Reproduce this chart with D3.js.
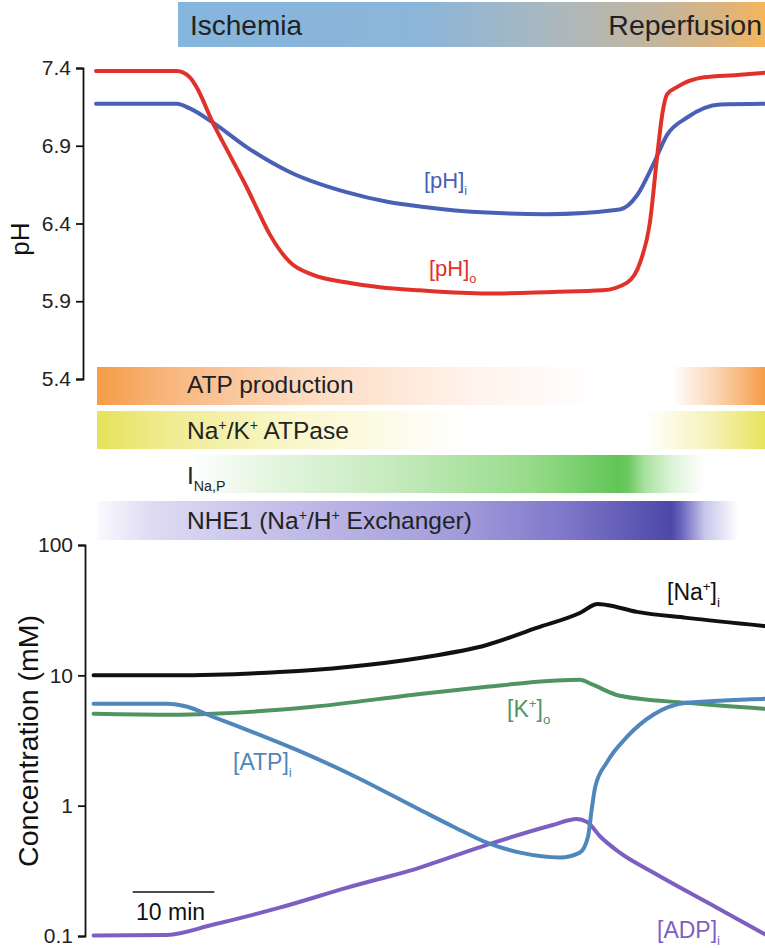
<!DOCTYPE html>
<html>
<head>
<meta charset="utf-8">
<script src="https://cdn.jsdelivr.net/npm/d3@7"></script>
<style>
  html, body { margin: 0; padding: 0; background: #fff; }
  svg { display: block; font-family: "Liberation Sans", Arial, Helvetica, sans-serif; }
</style>
</head>
<body>
<svg id="chart" width="765" height="948"></svg>
<script>
// ---------------- DATA ----------------
// time in minutes
const phOTime   = [0, 9.9, 11.5, 12.4, 14.3, 16.4, 18.5, 20.1, 21.3, 23.8, 26.6, 30.8, 34.8, 39.7, 47.9, 56.0, 62.1, 65.1, 66.7, 67.9, 68.8, 69.4, 70.0, 71.3, 74.5, 78.6, 82];
const phOValues = [7.38, 7.38, 7.34, 7.27, 7.05, 6.84, 6.63, 6.455, 6.33, 6.15, 6.07, 6.02, 5.99, 5.97, 5.95, 5.96, 5.97, 6.02, 6.15, 6.41, 6.84, 7.10, 7.23, 7.28, 7.34, 7.355, 7.37];

const phITime   = [0, 9.9, 11.5, 14.3, 18.5, 23.8, 30.8, 35.7, 39.7, 47.9, 55.3, 64.2, 66.3, 68.3, 70.0, 72.4, 76.5, 82];
const phIValues = [7.17, 7.17, 7.14, 7.05, 6.89, 6.73, 6.60, 6.54, 6.51, 6.47, 6.46, 6.49, 6.58, 6.78, 6.97, 7.08, 7.165, 7.17];

const naTime   = [-0.3, 9.4, 22.5, 30.8, 39.7, 47.9, 54.0, 59.3, 61.5, 62.6, 66.3, 72.4, 82];
const naValues = [10.0, 10.0, 10.6, 11.6, 13.6, 17.1, 23.1, 30.1, 35.3, 34.7, 30.7, 27.6, 23.9];

const kTime   = [-0.3, 9.4, 14.3, 26.6, 39.7, 47.9, 56.0, 59.3, 60.9, 64.2, 72.4, 82];
const kValues = [5.07, 4.98, 5.07, 5.74, 7.2, 8.17, 9.08, 9.25, 8.47, 6.97, 6.15, 5.53];

const atpTime   = [-0.3, 8.7, 11.2, 14.3, 18.5, 24.6, 30.8, 39.7, 43.8, 47.9, 52.0, 56.9, 59.3, 60.3, 60.8, 61.2, 62.6, 65.1, 68.3, 72.4, 82];
const atpValues = [6.05, 6.05, 5.74, 4.81, 3.82, 2.68, 1.79, 0.93, 0.69, 0.52, 0.436, 0.40, 0.436, 0.578, 0.98, 1.40, 2.14, 3.38, 4.98, 6.15, 6.6];

const adpTime   = [-0.3, 8.7, 14.3, 22.5, 30.8, 39.7, 47.9, 56.0, 58.9, 60.2, 61.8, 64.2, 68.3, 76.5, 82];
const adpValues = [0.101, 0.102, 0.122, 0.165, 0.235, 0.335, 0.50, 0.71, 0.79, 0.75, 0.58, 0.436, 0.307, 0.16, 0.103];

const phTicks   = [5.4, 5.9, 6.4, 6.9, 7.4];
const concTicks = [0.1, 1, 10, 100];
const concTickLabels = ["0.1", "1", "10", "100"];

const phaseLabels = ["Ischemia", "Reperfusion"];
const barLabels = ["ATP production", "Na+/K+ ATPase", "INa,P", "NHE1 (Na+/H+ Exchanger)"];
const scaleBarMinutes = 10;
const scaleBarStart = 4.5;

// ---------------- DRAW ----------------
const svg = d3.select("#chart");
const FONT = '"Liberation Sans", Arial, Helvetica, sans-serif';

const x = d3.scaleLinear().domain([0, 82]).range([96, 765]);
const yPH = d3.scaleLinear().domain([5.4, 7.4]).range([379, 68]);
const yC = d3.scaleLog().domain([0.1, 100]).range([936, 545]);

const defs = svg.append("defs");
function grad(id, stops) {
  const g = defs.append("linearGradient").attr("id", id)
    .attr("x1", "0%").attr("x2", "100%").attr("y1", "0%").attr("y2", "0%");
  stops.forEach(s => g.append("stop").attr("offset", s[0]).attr("stop-color", s[1]));
}
grad("gBanner", [[0, "#86b5de"], [0.42, "#8cb5d8"], [0.63, "#a9b8c0"], [0.82, "#c3b59c"], [0.93, "#dbb47e"], [1, "#f6b65a"]]);
grad("gATP", [[0, "#f59c46"], [0.1, "#f8b47a"], [0.3, "#fcd9bd"], [0.55, "#fff2ea"], [0.75, "#ffffff"], [0.86, "#ffffff"], [0.93, "#fbd2b0"], [1, "#f59c46"]]);
grad("gNaK", [[0, "#e6e25a"], [0.1, "#efeb8e"], [0.3, "#f9f7cc"], [0.55, "#ffffff"], [0.82, "#ffffff"], [0.92, "#f5f2b8"], [1, "#e8e35c"]]);
grad("gINaP", [[0, "#ffffff"], [0.14, "#ffffff"], [0.25, "#e6f6e2"], [0.45, "#c4eabc"], [0.65, "#96db8a"], [0.78, "#62c556"], [0.795, "#6cc960"], [0.82, "#a8e29e"], [0.86, "#dcf3d8"], [0.91, "#ffffff"], [1, "#ffffff"]]);
grad("gNHE", [[0, "#fafafe"], [0.08, "#dedbf3"], [0.3, "#c0bbe7"], [0.55, "#a19adb"], [0.7, "#7f77c9"], [0.86, "#4c48a8"], [0.875, "#6a66bd"], [0.91, "#c8c6ec"], [0.96, "#ffffff"], [1, "#ffffff"]]);

// Banner
svg.append("rect").attr("x", 178).attr("y", 2).attr("width", 587).attr("height", 45).attr("fill", "url(#gBanner)");
svg.append("text").attr("x", 190).attr("y", 35).attr("font-size", 28).attr("fill", "#222").attr("font-family", FONT).text(phaseLabels[0]);
svg.append("text").attr("x", 762).attr("y", 35).attr("text-anchor", "end").attr("font-size", 28.5).attr("fill", "#222").attr("font-family", FONT).text(phaseLabels[1]);

// Gradient bars
const bars = [
  {id: "gATP", y: 367, h: 38},
  {id: "gNaK", y: 411, h: 38},
  {id: "gINaP", y: 455, h: 38},
  {id: "gNHE", y: 501, h: 39}
];
bars.forEach(b => svg.append("rect").attr("x", 97).attr("y", b.y).attr("width", 668).attr("height", b.h).attr("fill", "url(#" + b.id + ")"));

function richText(xp, yp, size, color, parts) {
  const t = svg.append("text").attr("x", xp).attr("y", yp).attr("font-size", size).attr("fill", color).attr("font-family", FONT);
  let shift = 0;
  parts.forEach(p => {
    const sp = t.append("tspan").text(p.t);
    let target = 0, fs = size;
    if (p.sup) { target = -size * 0.38; fs = size * 0.58; }
    if (p.sub) { target = size * 0.3; fs = size * 0.58; }
    sp.attr("font-size", fs).attr("dy", target - shift);
    shift = target;
  });
  return t;
}
// bar labels
richText(187, 393, 24.5, "#222", [{t: barLabels[0]}]);
richText(187, 439, 24.5, "#222", [{t: "Na"}, {t: "+", sup: 1}, {t: "/K"}, {t: "+", sup: 1}, {t: " ATPase"}]);
richText(187, 484, 24.5, "#222", [{t: "I"}, {t: "Na,P", sub: 1}]);
richText(187, 529, 24.5, "#222", [{t: "NHE1 (Na"}, {t: "+", sup: 1}, {t: "/H"}, {t: "+", sup: 1}, {t: " Exchanger)"}]);

// Axes
const axPH = d3.axisLeft(yPH).tickValues(phTicks).tickFormat(d3.format(".1f")).tickSize(7).tickSizeOuter(7).tickPadding(5);
const gPH = svg.append("g").attr("transform", "translate(83,0)").call(axPH);
const axC = d3.axisLeft(yC).tickValues(concTicks).tickFormat((d, i) => concTickLabels[i]).tickSize(7).tickSizeOuter(7).tickPadding(5);
const gC = svg.append("g").attr("transform", "translate(85,0)").call(axC);
[gPH, gC].forEach(g => {
  g.selectAll("path, line").attr("stroke", "#111").attr("stroke-width", 1.8);
  g.selectAll("text").attr("font-size", 21).attr("fill", "#222").attr("font-family", FONT);
});

svg.append("text").attr("transform", "translate(29,239) rotate(-90)").attr("text-anchor", "middle")
  .attr("font-size", 26).attr("fill", "#111").attr("font-family", FONT).text("pH");
svg.append("text").attr("transform", "translate(38,741) rotate(-90)").attr("text-anchor", "middle")
  .attr("font-size", 28.5).attr("fill", "#111").attr("font-family", FONT).text("Concentration (mM)");

// Lines
function drawLine(times, values, yScale, color) {
  const data = times.map((t, i) => [t, values[i]]);
  const line = d3.line().x(d => x(d[0])).y(d => yScale(d[1])).curve(d3.curveMonotoneX);
  svg.append("path").datum(data).attr("d", line).attr("fill", "none")
    .attr("stroke", color).attr("stroke-width", 4).attr("stroke-linejoin", "round").attr("stroke-linecap", "round");
}
const cPHi = "#4a60b4", cPHo = "#e0322a", cNa = "#111111", cK = "#4f9462", cATP = "#4f86bb", cADP = "#7d5fc2";
drawLine(phITime, phIValues, yPH, cPHi);
drawLine(phOTime, phOValues, yPH, cPHo);
drawLine(naTime, naValues, yC, cNa);
drawLine(kTime, kValues, yC, cK);
drawLine(adpTime, adpValues, yC, cADP);
drawLine(atpTime, atpValues, yC, cATP);

// Curve labels
richText(424, 188, 22, cPHi, [{t: "[pH]"}, {t: "i", sub: 1}]);
richText(429, 276, 22, cPHo, [{t: "[pH]"}, {t: "o", sub: 1}]);
richText(667, 600, 23, "#111", [{t: "[Na"}, {t: "+", sup: 1}, {t: "]"}, {t: "i", sub: 1}]);
richText(507, 717, 23, cK, [{t: "[K"}, {t: "+", sup: 1}, {t: "]"}, {t: "o", sub: 1}]);
richText(233, 770, 23, cATP, [{t: "[ATP]"}, {t: "i", sub: 1}]);
richText(657, 938, 23, cADP, [{t: "[ADP]"}, {t: "i", sub: 1}]);

// Scale bar
svg.append("line").attr("x1", x(scaleBarStart)).attr("x2", x(scaleBarStart + scaleBarMinutes))
  .attr("y1", 892).attr("y2", 892).attr("stroke", "#111").attr("stroke-width", 1.6);
svg.append("text").attr("x", 136).attr("y", 920)
  .attr("font-size", 23).attr("fill", "#111").attr("font-family", FONT).text(scaleBarMinutes + " min");
</script>
</body>
</html>
